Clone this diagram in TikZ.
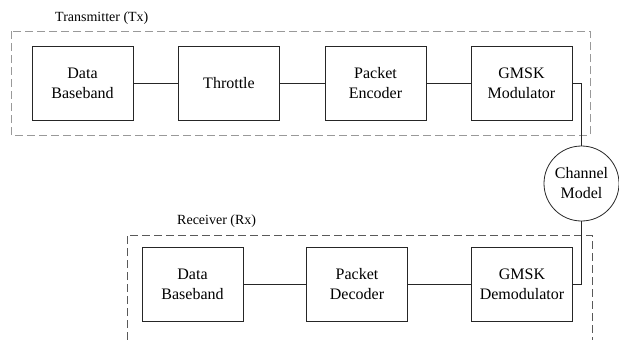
\documentclass[tikz,border=0pt]{standalone}
\usepackage{fontspec}
\setmainfont{Liberation Serif}
\begin{document}
\begin{tikzpicture}[x=1pt,y=-1pt,
  block/.style={draw=black!85, line width=0.8pt, fill=white, minimum width=101pt,
    minimum height=74pt, inner sep=0pt, align=center,
    font=\fontsize{16}{20}\selectfont},
  chan/.style={draw=black!85, line width=0.8pt, circle, minimum size=75pt,
    inner sep=0pt, align=center, font=\fontsize{16}{20}\selectfont},
  link/.style={draw=black!85, line width=0.8pt},
  txframe/.style={draw=black!40, line width=0.8pt, dash pattern=on 8pt off 4pt},
  rxframe/.style={draw=black!65, line width=0.8pt, dash pattern=on 8pt off 4pt},
  caption/.style={font=\fontsize{14}{16}\selectfont, inner sep=0pt}]
\useasboundingbox (0,0) rectangle (619,340);

% transmitter chain
\draw[txframe] (11,31) rectangle (590,135);
\node[caption, anchor=west] (txlabel) at (55,18) {Transmitter (Tx)};
\node[block] (txdata) at (82.5,83) {Data\\Baseband};
\node[block] (thr) at (229,83) {Throttle};
\node[block] (enc) at (375.5,83) {Packet\\Encoder};
\node[block] (mod) at (521.5,83) {GMSK\\Modulator};

% channel
\node[chan] (ch) at (581.5,183.5) {Channel\\Model};

% receiver chain (frame open at the bottom)
\draw[rxframe] (127,340) -- (127,235) -- (592,235) -- (592,340);
\node[caption, anchor=west] (rxlabel) at (177,221) {Receiver (Rx)};
\node[block] (rxdata) at (192.5,284.5) {Data\\Baseband};
\node[block] (dec) at (357,284.5) {Packet\\Decoder};
\node[block] (dem) at (522,284.5) {GMSK\\Demodulator};

% connections
\draw[link] (txdata) -- (thr);
\draw[link] (thr) -- (enc);
\draw[link] (enc) -- (mod);
\draw[link] (mod.east) -| (ch.north);
\draw[link] (ch.south) |- (dem.east);
\draw[link] (dem) -- (dec);
\draw[link] (dec) -- (rxdata);
\end{tikzpicture}
\end{document}
